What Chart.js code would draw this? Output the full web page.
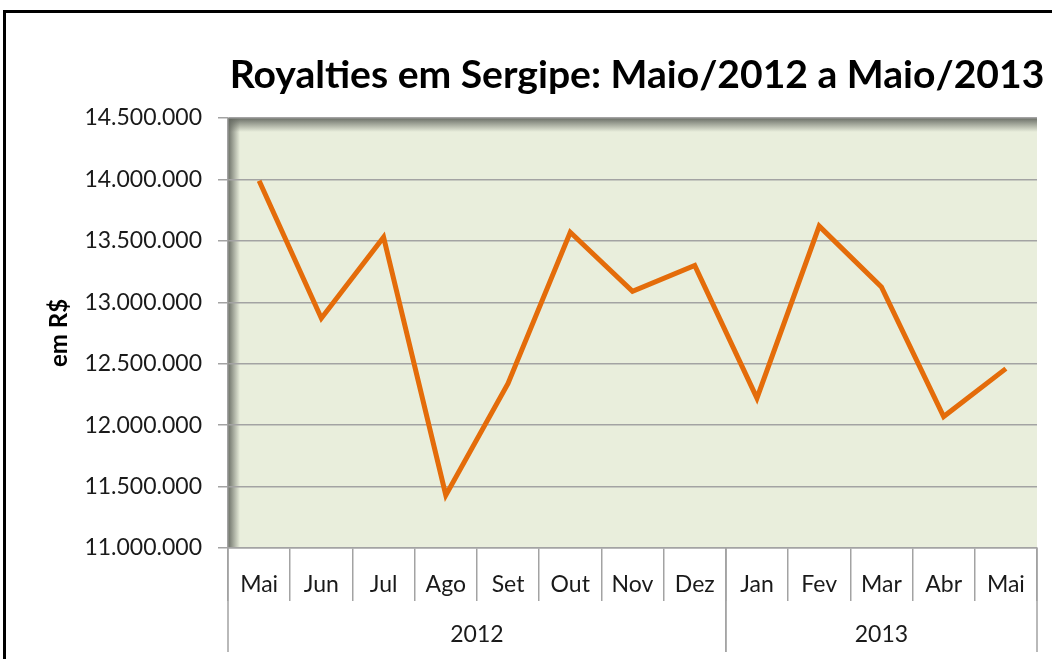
<!DOCTYPE html>
<html lang="pt-BR">
<head>
<meta charset="utf-8">
<title>Royalties em Sergipe</title>
<script src="https://cdn.jsdelivr.net/npm/chart.js@4.4.1/dist/chart.umd.min.js"></script>
<style>
  html, body { margin: 0; padding: 0; background: #fff; overflow: hidden; }
  #wrap { width: 1052px; height: 659px; }
</style>
</head>
<body>
<div id="wrap"><canvas id="royalties" width="1052" height="659"></canvas></div>
<script>
// valores (em R$)
const months = ['Mai', 'Jun', 'Jul', 'Ago', 'Set', 'Out', 'Nov', 'Dez', 'Jan', 'Fev', 'Mar', 'Abr', 'Mai']
const years = ['2012', '2013']
const monthsPerYear = [8, 5]
const royalties = [13990000, 12870000, 13530000, 11430000, 12340000, 13570000, 13090000, 13300000, 12220000, 13620000, 13125000, 12070000, 12460000]
const yMin = 11000000
const yMax = 14500000
const yStep = 500000

const textFont = 'Lato, "Open Sans", sans-serif'
const gridColor = '#A3A3A3'
const titleText = 'Royalties em Sergipe: Maio/2012 a Maio/2013'

function formatNumber(value) {
  return String(value).replace(/\B(?=(\d{3})+(?!\d))/g, '.')
}

const backgroundPlugin = {
  id: 'background',
  beforeDraw(chart) {
    const {ctx, chartArea: {left, top, right, bottom}} = chart
    ctx.save()
    ctx.fillStyle = '#fff'
    ctx.fillRect(0, 0, chart.width, chart.height)

    // moldura preta
    ctx.strokeStyle = '#000'
    ctx.lineWidth = 3
    ctx.strokeRect(4.5, 11.5, chart.width + 20, chart.height + 20)

    // fundo da area do grafico
    ctx.fillStyle = '#E9EEDC'
    ctx.fillRect(left, top, right - left, bottom - top)

    const topShadow = ctx.createLinearGradient(0, top, 0, top + 14)
    topShadow.addColorStop(0, 'rgba(100,104,96,0.95)')
    topShadow.addColorStop(1, 'rgba(100,104,96,0)')
    ctx.fillStyle = topShadow
    ctx.fillRect(left, top, right - left, 14)

    const leftShadow = ctx.createLinearGradient(left, 0, left + 12, 0)
    leftShadow.addColorStop(0, 'rgba(100,104,96,0.95)')
    leftShadow.addColorStop(1, 'rgba(100,104,96,0)')
    ctx.fillStyle = leftShadow
    ctx.fillRect(left, top, 12, bottom - top)
    ctx.restore()
  }
}

const titlePlugin = {
  id: 'chartTitle',
  afterDraw(chart) {
    const {ctx} = chart
    ctx.save()
    ctx.fillStyle = '#000'
    // fonte condensada nao existe aqui: ajusta o tamanho para a largura do original
    let size = 37
    ctx.font = `bold ${size}px ${textFont}`
    const width = ctx.measureText(titleText).width
    size = size * 815 / width
    ctx.font = `bold ${size}px ${textFont}`
    ctx.textAlign = 'center'
    ctx.textBaseline = 'middle'
    ctx.fillText(titleText, 637, 75)
    ctx.restore()
  }
}

const yearRowPlugin = {
  id: 'yearRow',
  afterDraw(chart) {
    const {ctx} = chart
    const x = chart.scales.x
    const rowTop = x.top
    const rowBottom = x.top + 104
    const half = (x.getPixelForValue(1) - x.getPixelForValue(0)) / 2

    ctx.save()
    ctx.strokeStyle = gridColor
    ctx.lineWidth = 1.5
    ctx.fillStyle = '#1a1a1a'
    ctx.font = '23px ' + textFont
    ctx.textAlign = 'center'
    ctx.textBaseline = 'middle'

    let first = 0
    years.forEach((year, i) => {
      const last = first + monthsPerYear[i] - 1
      const start = x.getPixelForValue(first) - half
      const end = x.getPixelForValue(last) + half
      ctx.beginPath()
      ctx.moveTo(start, rowTop)
      ctx.lineTo(start, rowBottom)
      ctx.moveTo(end, rowTop)
      ctx.lineTo(end, rowBottom)
      ctx.stroke()
      ctx.fillText(year, (start + end) / 2, rowTop + 87)
      first = last + 1
    })
    ctx.restore()
  }
}

new Chart(document.getElementById('royalties'), {
  type: 'line',
  data: {
    labels: months,
    datasets: [{
      label: 'Royalties',
      data: royalties,
      borderColor: '#E46C0A',
      borderWidth: 5,
      pointRadius: 0,
      tension: 0
    }]
  },
  options: {
    responsive: false,
    animation: false,
    layout: {padding: {top: 118, right: 15, left: 0, bottom: 0}},
    plugins: {
      legend: {display: false},
      tooltip: {enabled: false}
    },
    scales: {
      x: {
        offset: true,
        afterFit: scale => { scale.height = 111 },
        grid: {
          offset: true,
          drawOnChartArea: false,
          tickLength: 53,
          color: gridColor,
          lineWidth: 1.5
        },
        border: {color: gridColor, width: 1.5},
        ticks: {
          padding: -30,
          color: '#1a1a1a',
          font: {family: textFont, size: 23},
          maxRotation: 0
        }
      },
      y: {
        min: yMin,
        max: yMax,
        afterFit: scale => { scale.width = 228 },
        grid: {
          color: gridColor,
          lineWidth: 1.5,
          tickLength: 10
        },
        border: {color: gridColor, width: 1.5},
        ticks: {
          stepSize: yStep,
          padding: 16,
          color: '#1a1a1a',
          font: {family: textFont, size: 23},
          callback: value => formatNumber(value)
        },
        title: {
          display: true,
          text: 'em R$',
          color: '#000',
          font: {family: textFont, size: 24, weight: 'bold'},
          padding: {top: 45, bottom: 0}
        }
      }
    }
  },
  plugins: [backgroundPlugin, titlePlugin, yearRowPlugin]
})
</script>
</body>
</html>
